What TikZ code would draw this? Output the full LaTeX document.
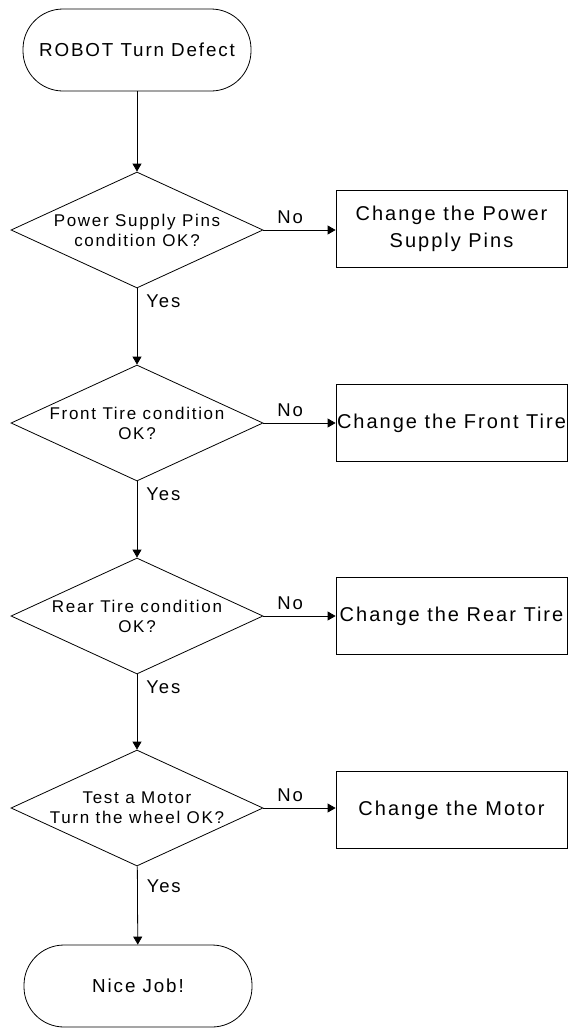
\documentclass[tikz,border=0pt]{standalone}
\usepackage{fontspec}
\setmainfont{Liberation Sans}
\newfontfamily\lsp[LetterSpace=10]{Liberation Sans}
\usetikzlibrary{shapes.geometric,arrows.meta}
\tikzset{
  term/.style={draw, rounded corners=40pt, minimum width=228pt, minimum height=82pt, inner sep=0pt,
    font=\lsp\fontsize{18.8}{22}\selectfont},
  dia/.style={draw, diamond, minimum width=252pt, minimum height=116pt, inner sep=0pt},
  diatext/.style={align=center, inner sep=0pt, font=\lsp\fontsize{17}{20}\selectfont},
  actbox/.style={draw, minimum width=231pt, minimum height=77pt, inner sep=0pt, align=center,
    font=\lsp\fontsize{20}{27}\selectfont},
  arr/.style={draw, line width=0.8pt, -{Triangle[length=8pt,width=9pt]}},
  lbl/.style={font=\lsp\fontsize{18.5}{21}\selectfont, inner sep=1pt},
  every node/.append style={line width=0.8pt}
}
\begin{document}
\begin{tikzpicture}[x=1pt,y=-1pt]
\useasboundingbox (0,0) rectangle (568,1028);
\node[term] (start) at (137,50) {ROBOT Turn Defect};
\node[dia] (d1) at (137,230) {};
\node[diatext] (t1) at (d1.center) {Power Supply Pins\\condition OK?};
\node[dia] (d2) at (137,423) {};
\node[diatext] (t2) at (d2.center) {Front Tire condition\\OK?};
\node[dia] (d3) at (137,616) {};
\node[diatext] (t3) at (d3.center) {Rear Tire condition\\OK?};
\node[dia] (d4) at (137,808) {};
\node[diatext] (t4) at (d4.center) {Test a Motor\\Turn the wheel OK?};
\node[term] (end) at (138,986) {Nice Job!};
\node[actbox] (b1) at (451.5,229) {Change the Power\\Supply Pins};
\node[actbox] (b2) at (451.5,423) {Change the Front Tire};
\node[actbox] (b3) at (451.5,616) {Change the Rear Tire};
\node[actbox] (b4) at (451.5,810) {Change the Motor};
\draw[arr] (start) -- (d1);
\draw[arr] (d1) -- node[lbl, pos=0.17, anchor=west, xshift=8pt] (y1) {Yes} (d2);
\draw[arr] (d2) -- node[lbl, pos=0.17, anchor=west, xshift=8pt] (y2) {Yes} (d3);
\draw[arr] (d3) -- node[lbl, pos=0.17, anchor=west, xshift=8pt] (y3) {Yes} (d4);
\draw[arr] (d4) -- node[lbl, pos=0.26, anchor=west, xshift=8pt] (y4) {Yes} (end);
\draw[arr] (d1.east) -- node[lbl, pos=0.37, above=5pt] (n1) {No} (d1.east -| b1.west);
\draw[arr] (d2.east) -- node[lbl, pos=0.37, above=5pt] (n2) {No} (d2.east -| b2.west);
\draw[arr] (d3.east) -- node[lbl, pos=0.37, above=5pt] (n3) {No} (d3.east -| b3.west);
\draw[arr] (d4.east) -- node[lbl, pos=0.37, above=5pt] (n4) {No} (d4.east -| b4.west);
\end{tikzpicture}
\end{document}
